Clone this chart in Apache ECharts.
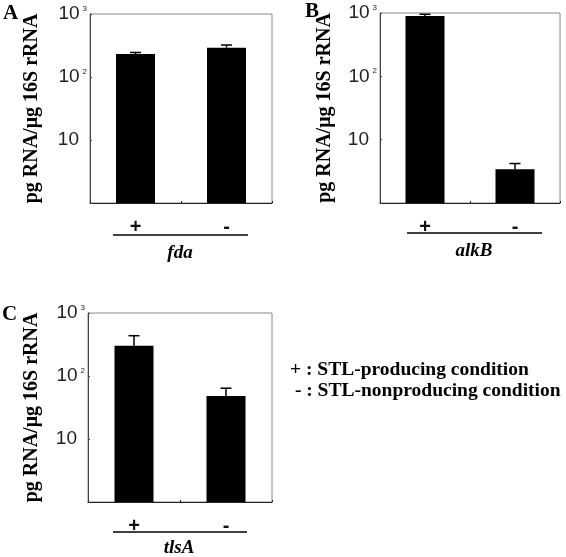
<!DOCTYPE html>
<html>
<head>
<meta charset="utf-8">
<script src="https://cdn.jsdelivr.net/npm/echarts@6/dist/echarts.min.js"></script>
<style>html,body{margin:0;padding:0;background:#fff}#c{width:566px;height:557px}</style>
</head>
<body>
<div id="c"></div>
<script>
const categories = ['+', '-'];
const fdaValues = [232, 292];
const fdaUpper = [245, 322];
const alkBValues = [900, 3.4];
const alkBUpper = [955, 4.2];
const tlsAValues = [303, 48];
const tlsAUpper = [436, 64];
const yMin = 1, yMax = 1000;
const yTickLabels = {1: '', 10: '{p|10}', 100: '{b|10}{s|2}', 1000: '{b|10}{s|3}'};
const panelLetters = ['A', 'B', 'C'];
const geneNames = ['fda', 'alkB', 'tlsA'];
const yAxisTitle = 'pg RNA/\u03bcg 16S rRNA';
const legendLines = ['+ : STL-producing condition', ' - : STL-nonproducing condition'];

const grids = [
  {left: 90, top: 14, width: 182, height: 189},
  {left: 380, top: 13, width: 180, height: 190},
  {left: 88, top: 313, width: 184, height: 189}
];
const nameGaps = [48, 45, 46];
const panels = [
  [fdaValues, fdaUpper],
  [alkBValues, alkBUpper],
  [tlsAValues, tlsAUpper]
];

const chart = echarts.init(document.getElementById('c'), null, {renderer: 'canvas'});

const xAxes = [], yAxes = [], series = [];
grids.forEach((g, i) => {
  xAxes.push({
    type: 'category', gridIndex: i, data: categories,
    axisLine: {lineStyle: {color: '#222', width: 1}},
    axisTick: {show: true, inside: true, length: 2, lineStyle: {color: '#222'}},
    axisLabel: {margin: 14, fontFamily: 'Liberation Sans', fontSize: 20, fontWeight: 'bold', color: '#111'},
    splitLine: {show: false}
  });
  yAxes.push({
    type: 'log', logBase: 10, gridIndex: i, min: yMin, max: yMax,
    name: yAxisTitle, nameLocation: 'middle', nameRotate: 90, nameGap: nameGaps[i],
    nameTextStyle: {fontFamily: 'Liberation Serif', fontWeight: 'bold', fontSize: 20, color: '#000'},
    axisLine: {show: true, lineStyle: {color: '#444', width: 1}},
    axisTick: {show: true, inside: true, length: 2, lineStyle: {color: '#444'}},
    splitLine: {show: false},
    minorTick: {show: false},
    axisLabel: {
      margin: 3,
      formatter: v => yTickLabels[Math.round(v)] || '',
      rich: {
        b: {fontFamily: 'Liberation Sans', fontSize: 19, color: '#222'},
        p: {fontFamily: 'Liberation Sans', fontSize: 19, color: '#222', padding: [0, 8, 0, 0]},
        s: {fontFamily: 'Liberation Sans', fontSize: 8, color: '#222', verticalAlign: 'top', padding: [0, 0, 0, 3]}
      }
    }
  });
  const [vals, upper] = panels[i];
  series.push({
    type: 'bar', xAxisIndex: i, yAxisIndex: i, data: vals, barWidth: 39,
    itemStyle: {color: '#000'}, silent: true
  });
  series.push({
    type: 'custom', xAxisIndex: i, yAxisIndex: i, silent: true, z: 5,
    data: vals.map((v, k) => [k, v, upper[k]]),
    renderItem: (params, api) => {
      const x = api.value(0);
      const top = api.coord([x, api.value(1)]);
      const hi = api.coord([x, api.value(2)]);
      const w = 11;
      return {
        type: 'group',
        children: [
          {type: 'line', shape: {x1: top[0], y1: top[1], x2: hi[0], y2: hi[1]}, style: {stroke: '#000', lineWidth: 1.5}},
          {type: 'line', shape: {x1: hi[0] - w / 2, y1: hi[1], x2: hi[0] + w / 2, y2: hi[1]}, style: {stroke: '#000', lineWidth: 1.5}}
        ]
      };
    }
  });
});

const graphics = [];
const letterPos = [[3, 3], [305, 1], [2, 304]];
panelLetters.forEach((l, i) => {
  graphics.push({type: 'text', left: letterPos[i][0], top: letterPos[i][1],
    style: {text: l, font: 'bold 21px "Liberation Serif"', fill: '#000'}});
});
const underlines = [[113, 248, 235], [407, 542, 233], [113, 247, 532]];
underlines.forEach(u => {
  graphics.push({type: 'line', shape: {x1: u[0], y1: u[2], x2: u[1], y2: u[2]}, style: {stroke: '#000', lineWidth: 1.5}});
});
const genePos = [[180, 253], [474, 251], [179, 548]];
geneNames.forEach((gname, i) => {
  graphics.push({type: 'text', x: genePos[i][0], y: genePos[i][1],
    style: {text: gname, font: 'italic bold 19px "Liberation Serif"', fill: '#000', align: 'center', verticalAlign: 'middle'}});
});
const legendPos = [[290, 370], [290, 391]];
legendLines.forEach((t, i) => {
  graphics.push({type: 'text', x: legendPos[i][0], y: legendPos[i][1],
    style: {text: t, font: 'bold 19.5px "Liberation Serif"', fill: '#000', align: 'left', verticalAlign: 'middle'}});
});

chart.setOption({
  animation: false,
  backgroundColor: '#fff',
  grid: grids.map(g => Object.assign({show: true, borderColor: '#888', borderWidth: 1, backgroundColor: 'transparent'}, g)),
  xAxis: xAxes,
  yAxis: yAxes,
  series: series,
  graphic: graphics
});
</script>
</body>
</html>
